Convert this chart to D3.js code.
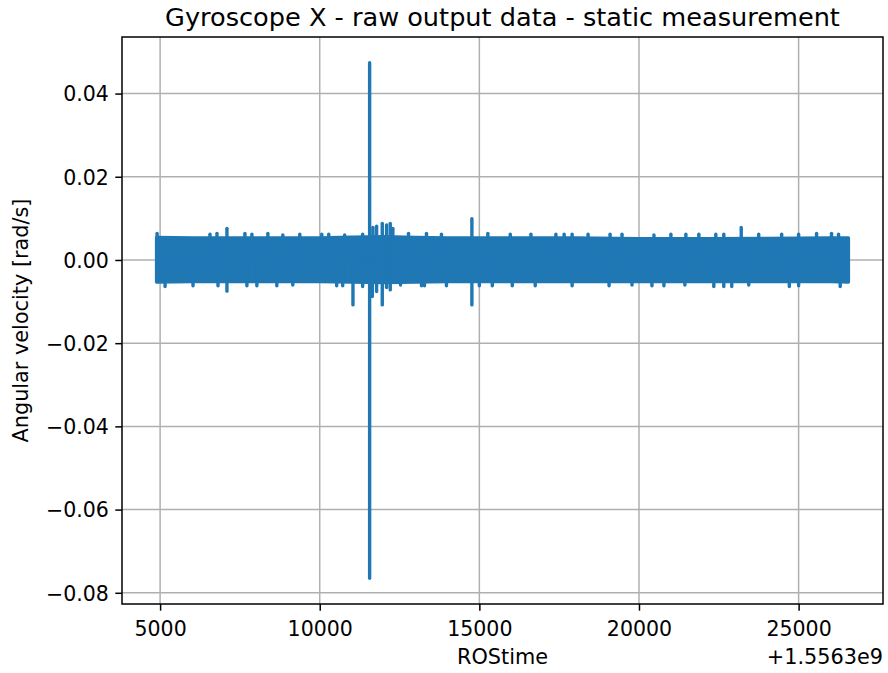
<!DOCTYPE html>
<html>
<head>
<meta charset="utf-8">
<script src="https://cdn.jsdelivr.net/npm/d3@7"></script>
<style>
  html, body { margin: 0; padding: 0; background: #fff; }
  svg text { font-family: "DejaVu Sans", sans-serif; fill: #000; }
</style>
</head>
<body>
<svg id="chart" width="888" height="673"></svg>
<script>
// ---- data (time relative to offset 1.5563e9 s, angular velocity in rad/s) ----
const timeOffsetLabel = "+1.5563e9";
const xTickValues = [5000, 10000, 15000, 20000, 25000];
const yTickValues = [0.04, 0.02, 0.00, -0.02, -0.04, -0.06, -0.08];

// envelope of the dense noise band
const envTime  = [4890, 6000, 8000, 10000, 11000, 12000, 13000, 14000, 16000, 18000, 20000, 22000, 24000, 26000, 26560];
const envUpper = [0.0054, 0.0053, 0.0053, 0.0053, 0.0055, 0.0056, 0.0054, 0.0053, 0.0053, 0.0053, 0.0051, 0.0051, 0.0052, 0.0053, 0.0053];
const envLower = [-0.0053, -0.0052, -0.0052, -0.0052, -0.0053, -0.0054, -0.0053, -0.0052, -0.0052, -0.0052, -0.0052, -0.0052, -0.0052, -0.0052, -0.0053];

// individual peaks sticking out of the band
const peakTime = [
  4906, 6562, 6781, 7094, 7656, 7875, 8375, 8844, 9375, 10063, 10281, 10781, 11344,
  11563, 11666, 11781, 11959, 12094, 12209, 12291, 12781, 13344, 13813, 14766, 15266,
  15969, 16616, 17397, 17656, 17906, 18406, 19094, 19469, 20469, 21000, 21469, 21875,
  22406, 22656, 23203, 23750, 24469, 25000, 25563, 26031, 26250,
  5156, 6031, 6813, 7094, 7719, 8031, 8656, 9156, 10531, 10719, 11041, 11344,
  11563, 11647, 11781, 11959, 12094, 12209, 12531, 13188, 13281, 13969, 14766, 15000,
  15406, 16031, 16750, 17906, 19063, 19781, 20406, 20781, 21438, 22344, 22656, 22906,
  23438, 24709, 25000, 26303
];
const peakValue = [
  0.0064, 0.0062, 0.0064, 0.0076, 0.0064, 0.0062, 0.0064, 0.0060, 0.0062, 0.0062, 0.0062, 0.0060, 0.0062,
  0.0474, 0.0078, 0.0081, 0.0088, 0.0084, 0.0088, 0.0076, 0.0064, 0.0064, 0.0062, 0.0099, 0.0064,
  0.0062, 0.0062, 0.0062, 0.0062, 0.0062, 0.0062, 0.0062, 0.0062, 0.0060, 0.0062, 0.0062, 0.0062,
  0.0062, 0.0062, 0.0078, 0.0062, 0.0062, 0.0062, 0.0064, 0.0064, 0.0062,
  -0.0064, -0.0062, -0.0062, -0.0075, -0.0062, -0.0062, -0.0062, -0.0060, -0.0062, -0.0062, -0.0108, -0.0064,
  -0.0765, -0.0088, -0.0076, -0.0108, -0.0066, -0.0072, -0.0060, -0.0062, -0.0062, -0.0062, -0.0108, -0.0062,
  -0.0062, -0.0062, -0.0062, -0.0062, -0.0062, -0.0060, -0.0062, -0.0062, -0.0060, -0.0064, -0.0064, -0.0064,
  -0.0060, -0.0064, -0.0062, -0.0064
];

const titleText = "Gyroscope X - raw output data - static measurement";
const xLabelText = "ROStime";
const yLabelText = "Angular velocity [rad/s]";

// ---- layout ----
const plot = { left: 122, right: 883, top: 37, bottom: 604 };
const lineColor = "#1f77b4";
const lw = 3.4;
const tickFont = 20.5, labelFont = 20.8, titleFont = 25.6;

const svg = d3.select("#chart");

// domains with 5% margins (matplotlib style)
const tMin = d3.min(envTime), tMax = d3.max(envTime);
const vMin = Math.min(d3.min(envLower), d3.min(peakValue));
const vMax = Math.max(d3.max(envUpper), d3.max(peakValue));
const tPad = (tMax - tMin) * 0.05, vPad = (vMax - vMin) * 0.05;

const x = d3.scaleLinear().domain([tMin - tPad, tMax + tPad]).range([plot.left, plot.right]);
const y = d3.scaleLinear().domain([vMin - vPad, vMax + vPad]).range([plot.bottom, plot.top]);

// grid
const grid = svg.append("g");
grid.selectAll("line.gx").data(xTickValues).join("line")
  .attr("x1", d => x(d)).attr("x2", d => x(d))
  .attr("y1", plot.top).attr("y2", plot.bottom)
  .attr("stroke", "#b0b0b0").attr("stroke-width", 1.5);
grid.selectAll("line.gy").data(yTickValues).join("line")
  .attr("x1", plot.left).attr("x2", plot.right)
  .attr("y1", d => y(d)).attr("y2", d => y(d))
  .attr("stroke", "#b0b0b0").attr("stroke-width", 1.5);

// clip
svg.append("clipPath").attr("id", "clip").append("rect")
  .attr("x", plot.left).attr("y", plot.top)
  .attr("width", plot.right - plot.left).attr("height", plot.bottom - plot.top);

const dataG = svg.append("g").attr("clip-path", "url(#clip)");

const env = envTime.map((t, i) => ({ t, hi: envUpper[i], lo: envLower[i] }));
const area = d3.area().x(d => x(d.t)).y0(d => y(d.lo)).y1(d => y(d.hi));
dataG.append("path").datum(env).attr("d", area)
  .attr("fill", lineColor).attr("stroke", lineColor)
  .attr("stroke-width", lw).attr("stroke-linejoin", "round");

const peaks = peakTime.map((t, i) => ({ t, v: peakValue[i] }));
dataG.selectAll("line.peak").data(peaks).join("line")
  .attr("x1", d => x(d.t)).attr("x2", d => x(d.t))
  .attr("y1", y(0)).attr("y2", d => y(d.v))
  .attr("stroke", lineColor).attr("stroke-width", lw).attr("stroke-linecap", "round");

// axes
const xAxis = d3.axisBottom(x).tickValues(xTickValues).tickSize(6.7).tickFormat(d3.format("d"));
const yAxis = d3.axisLeft(y).tickValues(yTickValues).tickSize(6.7).tickPadding(6.5)
  .tickFormat(d => (d < 0 ? "\u2212" : "") + Math.abs(d).toFixed(2));

const gx = svg.append("g").attr("transform", `translate(0,${plot.bottom})`).call(xAxis);
const gy = svg.append("g").attr("transform", `translate(${plot.left},0)`).call(yAxis);
[gx, gy].forEach(g => {
  g.select(".domain").remove();
  g.selectAll(".tick line").attr("stroke", "#000").attr("stroke-width", 1.5);
  g.selectAll(".tick text").attr("font-family", "DejaVu Sans").attr("font-size", tickFont).attr("fill", "#000");
});
gx.selectAll(".tick text").attr("dy", null).attr("y", 31.5);
gy.selectAll(".tick text").attr("dy", "0.36em");

// spines
svg.append("rect").attr("x", plot.left).attr("y", plot.top)
  .attr("width", plot.right - plot.left).attr("height", plot.bottom - plot.top)
  .attr("fill", "none").attr("stroke", "#000").attr("stroke-width", 1.5);

// texts
svg.append("text").attr("x", (plot.left + plot.right) / 2).attr("y", 26)
  .attr("text-anchor", "middle").attr("font-size", titleFont).text(titleText);
svg.append("text").attr("x", (plot.left + plot.right) / 2).attr("y", 664)
  .attr("text-anchor", "middle").attr("font-size", labelFont).text(xLabelText);
svg.append("text").attr("x", plot.right).attr("y", 664)
  .attr("text-anchor", "end").attr("font-size", labelFont).text(timeOffsetLabel);
svg.append("text").attr("transform", `translate(28,${(plot.top + plot.bottom) / 2}) rotate(-90)`)
  .attr("text-anchor", "middle").attr("font-size", labelFont).text(yLabelText);
</script>
</body>
</html>
